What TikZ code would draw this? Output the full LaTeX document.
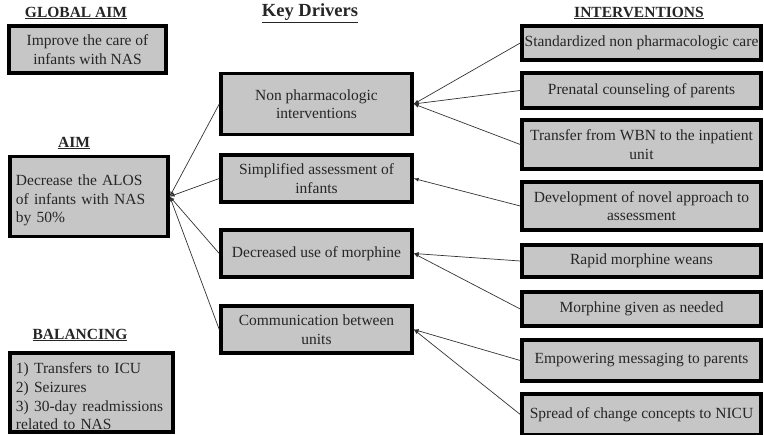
\documentclass[tikz,border=0pt]{standalone}
\usepackage{fontspec}
\setmainfont{Liberation Serif}
\usetikzlibrary{positioning}

\begin{document}
\begin{tikzpicture}[x=1pt,y=-1pt,
   box/.style={draw=black,fill=gray!45,line width=3.5pt,inner sep=2pt,align=center,
      font=\fontsize{15.5}{18.5}\selectfont,text=black!85},
   leftbox/.style={box,align=left,inner xsep=5pt},
   title/.style={font=\fontsize{15.5}{18}\selectfont\bfseries,text=black!85},
   link/.style={black!80,line width=0.7pt,-latex}]
   \useasboundingbox (0,0) rectangle (764,435);
   % titles
   \node[title] (globaltitle) at (76,13) {\underline{GLOBAL AIM}};
   \node[title] (aimtitle) at (74,143) {\underline{AIM}};
   \node[title] (baltitle) at (80,335) {\underline{BALANCING}};
   \node[title,font=\fontsize{18.5}{20}\selectfont\bfseries] (keytitle) at (310,13) {\underline{Key Drivers}};
   \node[title] (inttitle) at (639,13) {\underline{INTERVENTIONS}};
   % left column
   \node[box,minimum width=157,minimum height=47] (global) at (87.5,49.5) {Improve the care of\\infants with NAS};
   \node[leftbox,minimum width=158,minimum height=80,text width=146] (aim) at (89,196.5) {\rule{0pt}{19pt}Decrease the ALOS\\of infants with NAS\\by 50\%};
   \node[leftbox,minimum width=163,minimum height=77,text width=151,font=\fontsize{15.5}{18.7}\selectfont] (bal) at (91.5,392.5) {\rule{0pt}{19pt}1) Transfers to ICU\\2) Seizures\\3) 30-day readmissions\\related to NAS};
   % key drivers
   \node[box,minimum width=191,minimum height=61] (kd1) at (316.5,104) {Non pharmacologic\\interventions};
   \node[box,minimum width=191,minimum height=47] (kd2) at (316.5,178.5) {Simplified assessment of\\infants};
   \node[box,minimum width=191,minimum height=47] (kd3) at (316.5,253.5) {Decreased use of morphine};
   \node[box,minimum width=191,minimum height=47] (kd4) at (316.5,329.5) {Communication between\\units};
   % interventions
   \node[box,minimum width=239,minimum height=34] (in1) at (641.5,43) {Standardized non pharmacologic care};
   \node[box,minimum width=239,minimum height=35] (in2) at (641.5,90.5) {Prenatal counseling of parents};
   \node[box,minimum width=239,minimum height=49] (in3) at (641.5,144.5) {Transfer from WBN to the inpatient\\unit};
   \node[box,minimum width=239,minimum height=48] (in4) at (641.5,206) {Development of novel approach to\\assessment};
   \node[box,minimum width=239,minimum height=32] (in5) at (641.5,261) {Rapid morphine weans};
   \node[box,minimum width=239,minimum height=34] (in6) at (641.5,309) {Morphine given as needed};
   \node[box,minimum width=239,minimum height=41] (in7) at (641.5,360.5) {Empowering messaging to parents};
   \node[box,minimum width=239,minimum height=41] (in8) at (641.5,414.5) {Spread of change concepts to NICU};
   % drivers to aim
   \foreach \k in {kd1,kd2,kd3,kd4}
      \draw[link] (\k.west)--(aim.east);
   % interventions to drivers
   \draw[link] (in1.west)--(kd1.east);
   \draw[link] (in2.west)--(kd1.east);
   \draw[link] (in3.west)--(kd1.east);
   \draw[link] (in4.west)--(kd2.east);
   \draw[link] (in5.west)--(kd3.east);
   \draw[link] (in6.west)--(kd3.east);
   \draw[link] (in7.west)--(kd4.east);
   \draw[link] (in8.west)--(kd4.east);
\end{tikzpicture}
\end{document}
